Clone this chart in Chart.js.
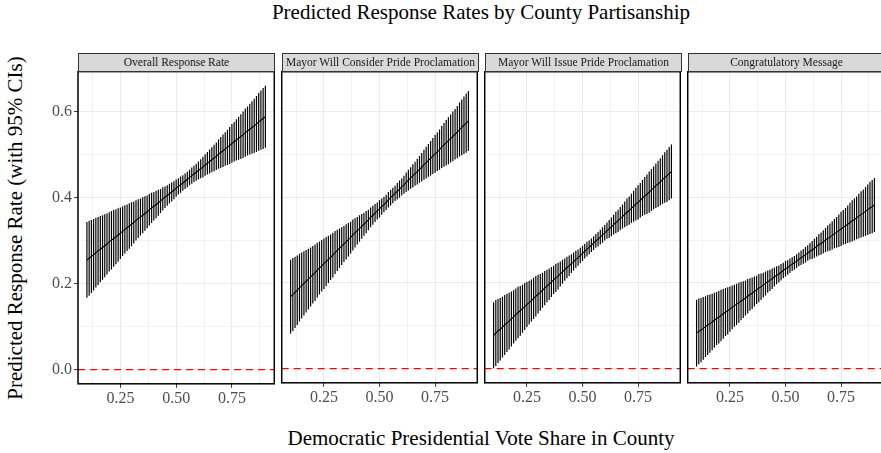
<!DOCTYPE html>
<html>
<head>
<meta charset="utf-8">
<script src="https://cdn.jsdelivr.net/npm/chart.js@4.4.1/dist/chart.umd.min.js"></script>
<style>
  html, body { margin: 0; padding: 0; background: #fff; }
  body { width: 881px; height: 453px; overflow: hidden; position: relative; font-family: "Liberation Serif", serif; }
  .wrap { position: absolute; }
  .strip { position: absolute; top: 53px; height: 19px; width: 197px; box-sizing: border-box; background: #d9d9d9; border: 1px solid #333; font-size: 11.5px; color: #1a1a1a; text-align: center; line-height: 17px; white-space: nowrap; z-index: 2; }
  .label { position: absolute; white-space: nowrap; color: #000; font-size: 21px; line-height: 24px; }
  #title { top: 0px; left: 481px; transform: translateX(-50%); }
  #xtitle { top: 426px; left: 481px; transform: translateX(-50%); }
  #ytitle { top: 228px; left: 15px; transform: translate(-50%, -50%) rotate(-90deg); }
</style>
</head>
<body>
<div id="title" class="label">Predicted Response Rates by County Partisanship</div>
<div id="xtitle" class="label">Democratic Presidential Vote Share in County</div>
<div id="ytitle" class="label">Predicted Response Rate (with 95% CIs)</div>
<script>
const panelTitles = [
  "Overall Response Rate",
  "Mayor Will Consider Pride Proclamation",
  "Mayor Will Issue Pride Proclamation",
  "Congratulatory Message",
];

const xTickValues = [0.25, 0.5, 0.75];
const yTickValues = [0, 0.2, 0.4, 0.6];
const refLine = [0];

const voteShare = [
  0.10, 0.11, 0.12, 0.13, 0.14, 0.15, 0.16, 0.17, 0.18, 0.19,
  0.20, 0.21, 0.22, 0.23, 0.24, 0.25, 0.26, 0.27, 0.28, 0.29,
  0.30, 0.31, 0.32, 0.33, 0.34, 0.35, 0.36, 0.37, 0.38, 0.39,
  0.40, 0.41, 0.42, 0.43, 0.44, 0.45, 0.46, 0.47, 0.48, 0.49,
  0.50, 0.51, 0.52, 0.53, 0.54, 0.55, 0.56, 0.57, 0.58, 0.59,
  0.60, 0.61, 0.62, 0.63, 0.64, 0.65, 0.66, 0.67, 0.68, 0.69,
  0.70, 0.71, 0.72, 0.73, 0.74, 0.75, 0.76, 0.77, 0.78, 0.79,
  0.80, 0.81, 0.82, 0.83, 0.84, 0.85, 0.86, 0.87, 0.88, 0.89,
  0.90,
];

// predicted rate and half width of the 95% CI, per panel
const overallFit = [
  .255, .259, .263, .267, .272, .276, .280, .284, .288, .292,
  .297, .301, .305, .309, .313, .317, .322, .326, .330, .334,
  .338, .342, .347, .351, .355, .359, .363, .367, .372, .376,
  .380, .384, .388, .392, .397, .401, .405, .409, .413, .417,
  .422, .426, .430, .434, .438, .442, .447, .451, .455, .459,
  .463, .467, .471, .476, .480, .484, .488, .492, .496, .501,
  .505, .509, .513, .517, .521, .526, .530, .534, .538, .542,
  .546, .551, .555, .559, .563, .567, .571, .576, .580, .584,
  .588,
];
const overallHalf = [
  .088, .087, .085, .083, .081, .079, .077, .075, .073, .071,
  .069, .068, .066, .064, .062, .060, .058, .056, .054, .053,
  .051, .049, .047, .045, .043, .042, .040, .038, .037, .035,
  .033, .032, .030, .028, .027, .025, .024, .023, .022, .021,
  .020, .019, .019, .018, .018, .018, .018, .019, .019, .020,
  .021, .022, .024, .025, .026, .028, .029, .031, .032, .034,
  .036, .038, .039, .041, .043, .045, .046, .048, .050, .052,
  .054, .056, .057, .059, .061, .063, .065, .067, .069, .071,
  .072,
];

const considerFit = [
  .168, .173, .178, .183, .189, .194, .199, .204, .209, .214,
  .219, .224, .230, .235, .240, .245, .250, .255, .260, .265,
  .271, .276, .281, .286, .291, .296, .301, .306, .312, .317,
  .322, .327, .332, .337, .342, .347, .353, .358, .363, .368,
  .373, .378, .383, .388, .394, .399, .404, .409, .414, .419,
  .424, .429, .435, .440, .445, .450, .455, .460, .465, .470,
  .476, .481, .486, .491, .496, .501, .506, .511, .517, .522,
  .527, .532, .537, .542, .547, .552, .558, .563, .568, .573,
  .578,
];
const considerHalf = [
  .086, .085, .083, .081, .079, .077, .075, .073, .071, .069,
  .067, .066, .064, .062, .060, .059, .057, .055, .053, .052,
  .050, .048, .046, .044, .042, .041, .039, .037, .036, .034,
  .032, .031, .029, .027, .026, .024, .023, .022, .021, .020,
  .020, .019, .018, .018, .018, .018, .018, .018, .019, .020,
  .020, .021, .023, .024, .025, .027, .028, .030, .031, .033,
  .035, .037, .038, .040, .042, .044, .045, .047, .049, .051,
  .053, .055, .056, .058, .059, .061, .063, .065, .067, .069,
  .070,
];

const issueFit = [
  .078, .083, .088, .092, .097, .102, .107, .111, .116, .121,
  .126, .131, .135, .140, .145, .150, .154, .159, .164, .169,
  .174, .178, .183, .188, .193, .197, .202, .207, .212, .216,
  .221, .226, .231, .236, .240, .245, .250, .255, .259, .264,
  .269, .274, .279, .283, .288, .293, .298, .302, .307, .312,
  .317, .322, .326, .331, .336, .341, .345, .350, .355, .360,
  .365, .369, .374, .379, .384, .388, .393, .398, .403, .407,
  .412, .417, .422, .427, .431, .436, .441, .446, .450, .455,
  .460,
];
const issueHalf = [
  .077, .077, .075, .073, .071, .070, .068, .066, .064, .062,
  .061, .060, .058, .056, .055, .053, .051, .049, .048, .047,
  .045, .043, .041, .040, .038, .037, .035, .033, .033, .031,
  .029, .028, .026, .025, .024, .022, .021, .020, .019, .018,
  .018, .017, .017, .016, .016, .016, .016, .017, .017, .018,
  .018, .019, .021, .022, .023, .025, .026, .027, .028, .030,
  .032, .033, .034, .036, .038, .040, .040, .042, .044, .046,
  .048, .049, .050, .052, .054, .055, .057, .059, .061, .062,
  .063,
];

const congratsFit = [
  .083, .087, .090, .094, .098, .102, .105, .109, .113, .117,
  .120, .124, .128, .132, .135, .139, .143, .147, .150, .154,
  .158, .161, .165, .169, .173, .176, .180, .184, .188, .191,
  .195, .199, .203, .206, .210, .214, .218, .221, .225, .229,
  .233, .236, .240, .244, .247, .251, .255, .259, .262, .266,
  .270, .274, .277, .281, .285, .289, .292, .296, .300, .304,
  .307, .311, .315, .318, .322, .326, .330, .333, .337, .341,
  .345, .348, .352, .356, .360, .363, .367, .371, .375, .378,
  .382,
];
const congratsHalf = [
  .078, .077, .075, .073, .071, .070, .068, .066, .064, .062,
  .061, .060, .058, .056, .055, .053, .051, .049, .048, .047,
  .045, .043, .041, .040, .038, .037, .035, .033, .033, .031,
  .029, .028, .026, .025, .024, .022, .021, .020, .019, .018,
  .018, .017, .017, .016, .016, .016, .016, .017, .017, .018,
  .018, .019, .021, .022, .023, .025, .026, .027, .028, .030,
  .032, .033, .034, .036, .038, .040, .040, .042, .044, .046,
  .048, .049, .050, .052, .054, .055, .057, .059, .061, .062,
  .063,
];

const fits = [overallFit, considerFit, issueFit, congratsFit];
const halves = [overallHalf, considerHalf, issueHalf, congratsHalf];

// layout (pixels) and axis ranges
const panelLeft = [78, 282, 485, 688];
const panelTop = 72;
const panelWidth = 197;
const panelHeight = 312;
const xMin = 0.06, xMax = 0.94;
const yMin = -0.033, yMax = 0.693;

Chart.defaults.font.family = '"Liberation Serif", "Times New Roman", serif';

const isMajor = (list, v) => list.some((t) => Math.abs(t - v) < 1e-6);

const panelFrame = {
  id: "panelFrame",
  afterDatasetsDraw(chart) {
    const { ctx, chartArea: a } = chart;
    ctx.save();
    ctx.strokeStyle = "#000";
    ctx.lineWidth = 1.5;
    ctx.strokeRect(a.left, a.top, a.right - a.left, a.bottom - a.top);
    ctx.restore();
  },
};

const gridOptions = (list, showTicks) => ({
  color: "#ebebeb",
  lineWidth: (c) => (c.tick && isMajor(list, c.tick.value) ? 1.1 : 0.6),
  drawTicks: showTicks,
  tickLength: 4,
  tickWidth: 1,
  tickColor: (c) => (c.tick && isMajor(list, c.tick.value) ? "#333" : "rgba(0,0,0,0)"),
});

const makePanel = (i) => {
  const wrap = document.createElement("div");
  wrap.className = "wrap";
  document.body.appendChild(wrap);
  const canvas = document.createElement("canvas");
  canvas.width = i === 0 ? 300 : 220;
  canvas.height = 360;
  wrap.appendChild(canvas);

  const fit = fits[i];
  const half = halves[i];

  const chart = new Chart(canvas, {
    type: "bar",
    data: {
      datasets: [
        {
          type: "line",
          data: [
            { x: xMin, y: refLine[0] },
            { x: xMax, y: refLine[0] },
          ],
          borderColor: "#ff0000",
          borderWidth: 1.4,
          borderDash: [7, 5],
          pointRadius: 0,
          order: -1,
        },
        {
          type: "line",
          data: voteShare.map((x, j) => ({ x, y: fit[j] })),
          borderColor: "#000",
          borderWidth: 1.1,
          pointRadius: 0,
          tension: 0,
          order: 0,
        },
        {
          type: "bar",
          data: voteShare.map((x, j) => ({ x, y: [fit[j] - half[j], fit[j] + half[j]] })),
          backgroundColor: "#000",
          borderWidth: 0,
          barThickness: 1.2,
          inflateAmount: 0,
          order: 1,
        },
      ],
    },
    options: {
      responsive: false,
      maintainAspectRatio: false,
      animation: false,
      events: [],
      layout: { padding: 0 },
      plugins: {
        legend: { display: false },
        tooltip: { enabled: false },
      },
      scales: {
        x: {
          type: "linear",
          min: xMin,
          max: xMax,
          offset: false,
          border: { display: false },
          grid: { ...gridOptions(xTickValues, true), offset: false },
          ticks: {
            stepSize: 0.125,
            includeBounds: false,
            autoSkip: false,
            maxRotation: 0,
            padding: 1,
            color: "#4d4d4d",
            font: { size: 16 },
            callback: (v) => (isMajor(xTickValues, v) ? v.toFixed(2) : ""),
          },
        },
        y: {
          type: "linear",
          min: yMin,
          max: yMax,
          border: { display: false },
          grid: gridOptions(yTickValues, i === 0),
          ticks: {
            display: i === 0,
            stepSize: 0.1,
            includeBounds: false,
            autoSkip: false,
            padding: 2,
            color: "#4d4d4d",
            font: { size: 16 },
            callback: (v) => (isMajor(yTickValues, v) ? v.toFixed(1) : ""),
          },
        },
      },
    },
    plugins: [panelFrame],
  });

  // size the canvas so the plot area matches the panel, then move it into place
  let a = chart.chartArea;
  chart.resize(
    Math.round(chart.width + panelWidth - (a.right - a.left)),
    Math.round(chart.height + panelHeight - (a.bottom - a.top))
  );
  a = chart.chartArea;
  wrap.style.left = panelLeft[i] - a.left + "px";
  wrap.style.top = panelTop - a.top + "px";

  const strip = document.createElement("div");
  strip.className = "strip";
  strip.style.left = panelLeft[i] + "px";
  strip.textContent = panelTitles[i];
  document.body.appendChild(strip);
};

panelTitles.forEach((_, i) => makePanel(i));
</script>
</body>
</html>
